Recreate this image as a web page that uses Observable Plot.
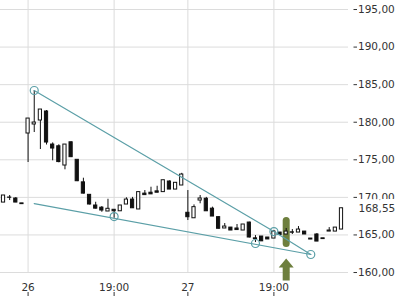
<!DOCTYPE html>
<html><head><meta charset="utf-8">
<script src="https://cdn.jsdelivr.net/npm/d3@7"></script>
<script src="https://cdn.jsdelivr.net/npm/@observablehq/plot@0.6"></script>
<style>html,body{margin:0;padding:0;background:#fff;} #chart svg{display:block}</style>
</head><body><div id="chart"></div>
<script>
// Candles (one per bar, in order)
const opens  = [169.31,169.98,169.85,169.2, 178.50,179.70,180.23,181.43,177.03,176.8, 174.24,177.33,175.0,172.0,170.34,168.92,168.63,168.12,168.35,168.15, 169.05,169.71,168.39,170.5,170.62,170.8,170.7,172.11,171.04,171.58, 167.95,167.22,169.58,169.82,168.5,167.37,165.86,165.98,165.86,165.59, 166.65,164.55,164.79,164.66,164.52,165.32,165.06,165.35,165.32,165.45, 164.52,165.06,164.55,165.45,165.45,165.72];
const highs  = [170.25,170.25,169.98,169.2, 180.49,184.22,181.69,181.56,177.25,177.0, 177.03,177.4,175.0,172.55,170.34,169.35,168.78,169.75,168.35,168.92, 169.95,170.0,170.7,170.91,171.35,171.48,172.28,172.2,171.94,173.2, 170.91,169.0,170.25,170.0,168.7,167.4,166.52,166.0,166.39,166.39, 166.7,164.92,164.79,164.66,165.6,165.32,165.86,165.72,166.12,165.45, 164.52,165.19,164.55,165.98,165.98,168.55];
const lows   = [169.31,169.58,169.31,169.05, 174.64,178.63,176.37,176.97,174.87,174.6, 173.67,175.3,172.1,170.45,169.0,168.45,168.02,168.12,167.22,168.15, 169.05,168.55,168.39,170.3,170.4,170.62,170.7,171.04,171.04,171.58, 166.92,167.22,169.15,168.15,167.45,165.8,165.86,165.59,165.65,165.59, 164.6,163.99,164.15,164.4,164.52,165.0,165.06,165.06,165.32,165.06, 164.39,164.12,164.45,165.45,165.45,165.72];
const closes = [170.25,169.95,169.31,169.1, 180.49,179.96,181.69,177.30,176.50,174.7, 177.03,175.35,172.15,170.5,169.05,168.5,168.25,168.48,168.15,168.92, 169.71,168.55,170.7,170.3,170.4,170.62,172.28,171.04,171.94,173.04, 167.36,168.7,169.85,168.15,167.45,165.82,166.12,165.59,165.65,166.39, 164.66,164.45,164.15,164.4,165.45,165.0,165.45,165.3,165.72,165.06, 164.39,164.12,164.45,165.59,165.98,168.55];

const xTickIndex  = [4, 18, 30, 44];
const xTickLabels = ["26", "19:00", "27", "19:00"];
const yTicks = [160, 165, 170, 175, 180, 185, 190, 195];
const lastPrice = 168.55;

const upperTrendIndex = [5, 44, 50];
const upperTrendPrice = [184.22, 165.45, 162.4];
const lowerTrendIndex = [5, 50];
const lowerTrendPrice = [169.18, 162.4];
const pivotIndex = [5, 18, 41, 44, 50];
const pivotPrice = [184.22, 167.45, 163.86, 165.45, 162.4];

const signalIndex = 46;
const signalBarTop = 166.86;
const signalBarBottom = 163.79;
const signalArrowPrice = 160.4;

const teal = "#5b9fa7";
const olive = "#6e7f3e";
const ink = "#111";

const candles = opens.map((o, i) => ({i, o, h: highs[i], l: lows[i], c: closes[i]}));
const upper = upperTrendIndex.map((i, k) => ({i, p: upperTrendPrice[k]}));
const lower = lowerTrendIndex.map((i, k) => ({i, p: lowerTrendPrice[k]}));
const pivots = pivotIndex.map((i, k) => ({i, p: pivotPrice[k]}));
const signal = [{i: signalIndex, top: signalBarTop, bottom: signalBarBottom, arrow: signalArrowPrice}];

const fmt = v => d3.format(".2f")(v).replace(".", ",");
const xLabel = v => xTickLabels[xTickIndex.indexOf(v)];

const arrowSymbol = {
  draw(ctx, size) {
    const s = Math.sqrt(size / Math.PI) / 11;
    ctx.moveTo(0, -11 * s);
    ctx.lineTo(7.5 * s, -2 * s);
    ctx.lineTo(3.5 * s, -2 * s);
    ctx.lineTo(3.5 * s, 11 * s);
    ctx.lineTo(-3.5 * s, 11 * s);
    ctx.lineTo(-3.5 * s, -2 * s);
    ctx.lineTo(-7.5 * s, -2 * s);
    ctx.closePath();
  }
};

const chart = Plot.plot({
  width: 400,
  height: 300,
  marginLeft: 0,
  marginRight: 52,
  marginTop: 0,
  marginBottom: 27,
  style: {fontFamily: "DejaVu Sans, sans-serif", fontSize: "10.5px", color: "#333", background: "white"},
  x: {type: "linear", domain: [-0.49, 56.14], label: null},
  y: {domain: [159.87, 196.2], label: null},
  marks: [
    Plot.gridY(yTicks, {stroke: "#dcdcdc", strokeOpacity: 1}),
    Plot.gridX(xTickIndex, {stroke: "#dcdcdc", strokeOpacity: 1}),
    Plot.ruleX(signal, {x: "i", y1: "top", y2: "bottom", stroke: olive, strokeWidth: 7, strokeLinecap: "round"}),
    Plot.dot(signal, {x: "i", y: "arrow", r: 11, symbol: arrowSymbol, fill: olive, stroke: "none"}),
    Plot.ruleX(candles, {x: "i", y1: "l", y2: "h", stroke: ink, strokeWidth: 1}),
    Plot.rect(candles, {x1: d => d.i - 0.26, x2: d => d.i + 0.26, y1: "o", y2: "c",
      fill: d => d.c >= d.o ? "white" : ink, stroke: ink, strokeWidth: 1}),
    Plot.line(upper, {x: "i", y: "p", stroke: teal, strokeWidth: 1.2}),
    Plot.line(lower, {x: "i", y: "p", stroke: teal, strokeWidth: 1.2}),
    Plot.dot(pivots, {x: "i", y: "p", r: 4, stroke: teal, fill: "none", strokeWidth: 1.2}),
    Plot.axisY(yTicks, {anchor: "right", label: null, tickFormat: fmt, tickSize: 3.5, tickPadding: 1.5, dx: 4.5}),
    Plot.axisX(xTickIndex, {anchor: "bottom", label: null, tickFormat: xLabel, tickSize: 0, tickPadding: 10}),
    Plot.axisX(xTickIndex, {anchor: "bottom", label: null, tickFormat: () => "", tickSize: 4, dy: 19}),
    Plot.text([lastPrice], {y: d => d, frameAnchor: "right", dx: 10, textAnchor: "start",
      text: fmt, fill: "#333", stroke: "white", strokeWidth: 10})
  ]
});
document.getElementById("chart").appendChild(chart);
</script>
</body></html>
